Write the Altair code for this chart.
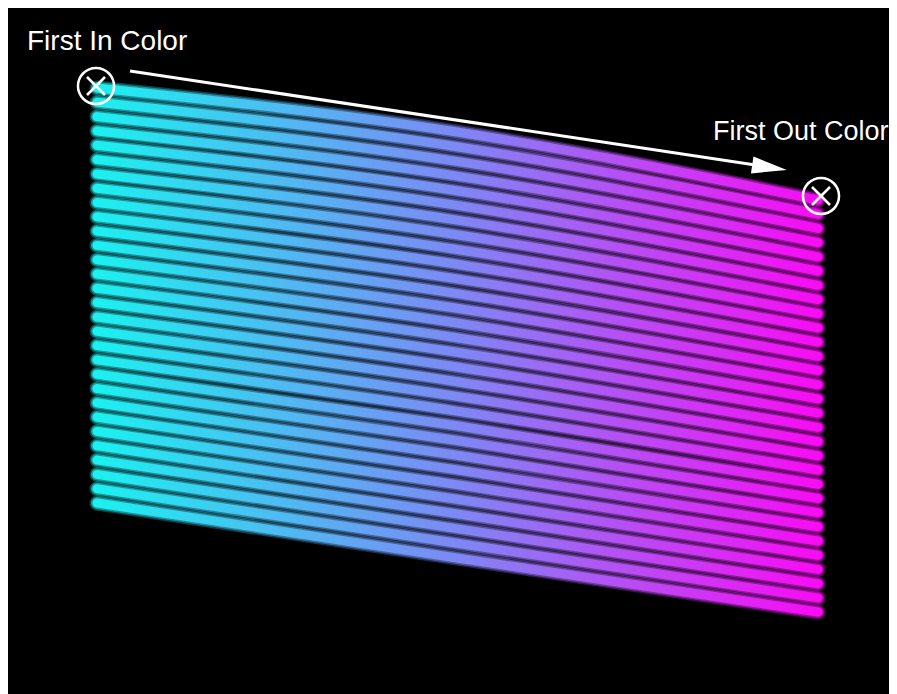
import altair as alt
import pandas as pd

# ---- data (screen pixel space) ----
line_ids = list(range(1, 31))
path_x = [97, 457, 818]
left_y = [88, 102.3, 116.6, 130.9, 145.2, 159.6, 173.9, 188.2, 202.5, 216.8,
          231.1, 245.4, 259.7, 274.0, 288.3, 302.6, 317.0, 331.3, 345.6, 359.9,
          374.2, 388.5, 402.8, 417.1, 431.4, 445.7, 460.0, 474.4, 488.7, 503.0]
mid_y = [132, 146.7, 161.4, 176.1, 190.8, 205.4, 220.1, 234.8, 249.5, 264.2,
         278.9, 293.6, 308.3, 323.0, 337.7, 352.3, 367.0, 381.7, 396.4, 411.1,
         425.8, 440.5, 455.2, 469.9, 484.6, 499.2, 513.9, 528.6, 543.3, 558.0]
right_y = [200, 214.2, 228.4, 242.6, 256.8, 271.0, 285.3, 299.5, 313.7, 327.9,
           342.1, 356.3, 370.5, 384.7, 398.9, 413.1, 427.4, 441.6, 455.8, 470.0,
           484.2, 498.4, 512.6, 526.8, 541.0, 555.2, 569.4, 583.7, 597.9, 612.0]

marker_x = [96, 821]
marker_y = [86, 196]
label_text = ["First In Color", "First Out Color"]
label_x = [27, 713]
label_y = [50, 140]
label_size = [28, 27]
arrow_x = [130, 762]
arrow_y = [71, 166]
head_x = [769.5]
head_y = [167.5]

rows = []
for i, lid in enumerate(line_ids):
    for px, py in zip(path_x, [left_y[i], mid_y[i], right_y[i]]):
        rows.append({"line": lid, "x": px, "y": py})
lines_df = pd.DataFrame(rows)
markers_df = pd.DataFrame({"x": marker_x, "y": marker_y})
labels_df = pd.DataFrame({"x": label_x, "y": label_y, "t": label_text, "s": label_size})
arrow_df = pd.DataFrame({"x": arrow_x, "y": arrow_y, "k": [1, 1]})
head_df = pd.DataFrame({"x": head_x, "y": head_y})

xs = alt.Scale(domain=[8, 889], nice=False, zero=False)
ys = alt.Scale(domain=[694, 8], nice=False, zero=False)
X = alt.X("x:Q", scale=xs, axis=None)
Y = alt.Y("y:Q", scale=ys, axis=None)


def grad():
    return alt.LinearGradient(
        gradient="linear",
        stops=[alt.GradientStop(color="#1cf0f0", offset=0),
               alt.GradientStop(color="#7e88f4", offset=0.5),
               alt.GradientStop(color="#f80cf4", offset=1)],
        x1=0, x2=1, y1=0, y2=0)


def band(width, op):
    return alt.Chart(lines_df).mark_line(
        stroke=grad(), strokeWidth=width, opacity=op, strokeCap="round",
        interpolate="natural"
    ).encode(x=X, y=Y, detail="line:N", order="x:Q")


glow1 = band(15, 0.3)
glow2 = band(12, 0.5)
core = band(9, 1)
arrow = alt.Chart(arrow_df).mark_line(color="white", strokeWidth=3).encode(x=X, y=Y, detail="k:N")
head = alt.Chart(head_df).mark_point(shape="M1,0L-1,-0.49L-1,0.49Z", filled=True, color="white",
                                     size=1225, angle=8.5, opacity=1).encode(x=X, y=Y)
circles = alt.Chart(markers_df).mark_point(shape="circle", filled=False, color="white",
                                           strokeWidth=2.5, size=1300, opacity=1).encode(x=X, y=Y)
crosses = alt.Chart(markers_df).mark_point(shape="M-1,-1L1,1M-1,1L1,-1", filled=False, color="white",
                                           strokeWidth=2.5, size=324, opacity=1).encode(x=X, y=Y)
labels = alt.Chart(labels_df).mark_text(color="white", font="Liberation Sans",
                                        align="left", baseline="alphabetic").encode(
    x=X, y=Y, text="t:N", size=alt.Size("s:Q", scale=None, legend=None))

chart = alt.layer(glow1, glow2, core, arrow, head, circles, crosses, labels).properties(
    width=881, height=686, background="black", padding=0, autosize="none"
).configure_view(stroke=None)

chart.save("out.html", embed_options={"renderer": "svg", "actions": False})
